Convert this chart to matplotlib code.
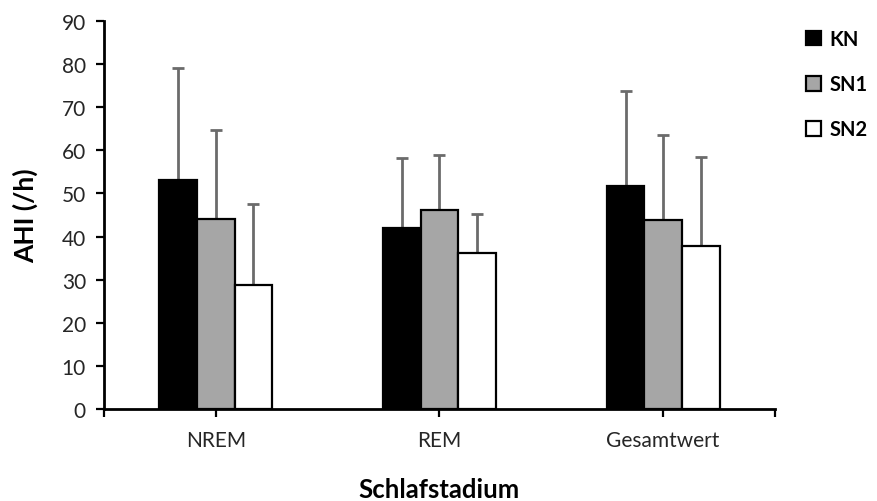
import matplotlib
matplotlib.use("Agg")
import matplotlib.pyplot as plt
import numpy as np

categories = ["NREM", "REM", "Gesamtwert"]
series = ["KN", "SN1", "SN2"]
means = {
    "KN": [53.2, 42.1, 51.7],
    "SN1": [44.1, 46.2, 43.8],
    "SN2": [28.8, 36.1, 37.9],
}
sds = {
    "KN": [25.8, 16.1, 22.0],
    "SN1": [20.7, 12.8, 19.7],
    "SN2": [18.7, 9.2, 20.5],
}
colors = {"KN": "#000000", "SN1": "#a6a6a6", "SN2": "#ffffff"}

plt.rcParams["font.family"] = ["Lato", "DejaVu Sans"]

fig = plt.figure(figsize=(8.78, 5.02), dpi=100)
ax = fig.add_axes([104 / 878, 1 - 410 / 502, (775 - 104) / 878, (410 - 22) / 502])

x = np.arange(len(categories))
width = 0.168
offsets = [-width, 0, width]
handles = []
for s, off in zip(series, offsets):
    m = np.array(means[s])
    sd = np.array(sds[s])
    ax.errorbar(x + off, m, yerr=[np.zeros_like(sd), sd], fmt="none",
                ecolor="#6b6b6b", elinewidth=2, capsize=4, capthick=2, zorder=2)
    b = ax.bar(x + off, m, width, color=colors[s], edgecolor="black",
               linewidth=1.6, zorder=3, label=s)
    handles.append(b)

ax.set_xlim(-0.5, 2.5)
ax.set_ylim(0, 90)
ax.set_yticks(np.arange(0, 91, 10))
ax.set_xticks(x)
ax.set_xticklabels(categories)
ax.set_xticks([-0.5, 2.5], minor=True)
ax.tick_params(axis="both", which="both", direction="out", length=6, width=1.6,
               labelsize=15, labelcolor="#262626", color="black")
ax.tick_params(axis="x", pad=9)
ax.tick_params(axis="y", pad=7)
for side in ("top", "right"):
    ax.spines[side].set_visible(False)
for side in ("left", "bottom"):
    ax.spines[side].set_linewidth(2)

ax.set_ylabel("AHI (/h)", fontsize=19, fontweight="bold")
ax.yaxis.set_label_coords(25 / 878, 0.5 * ((502 - 410) + (502 - 22)) / 502,
                          transform=fig.transFigure)
ax.yaxis.label.set_verticalalignment("center")
ax.set_xlabel("Schlafstadium", fontsize=18.5, fontweight="bold")
ax.xaxis.set_label_coords(0.5 * (104 + 775) / 878, 1 - 490 / 502,
                          transform=fig.transFigure)
ax.xaxis.label.set_verticalalignment("center")

leg = fig.legend(handles=handles, labels=series, loc="upper left",
                 bbox_to_anchor=(806 / 878, 1 - 30 / 502), frameon=False,
                 borderpad=0, borderaxespad=0,
                 handlelength=0.75, handleheight=0.75, handletextpad=0.4,
                 labelspacing=1.25, prop={"weight": "bold", "size": 14.5})

fig.savefig("out.png", dpi=100)
